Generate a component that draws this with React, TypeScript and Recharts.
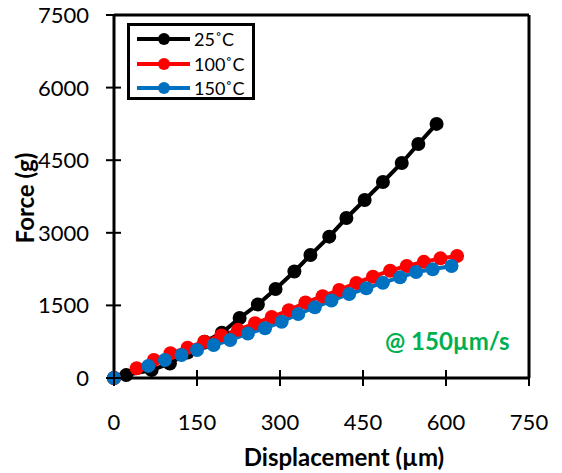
import {
  Line,
  LineChart,
  ReferenceLine,
  XAxis,
  YAxis,
} from "recharts";

const X_TICKS = [0, 150, 300, 450, 600, 750];
const Y_TICKS = [0, 1500, 3000, 4500, 6000, 7500];

const DISP_25 = [0, 22, 68, 101, 133, 164, 195, 227, 260, 292, 326, 355, 389, 420, 453, 486, 520, 550, 583];
const FORCE_25 = [0, 60, 165, 300, 525, 750, 935, 1240, 1520, 1840, 2200, 2540, 2920, 3306, 3678, 4050, 4442, 4835, 5250];

const DISP_100 = [0, 41, 72, 102, 133, 163, 194, 224, 255, 285, 316, 346, 377, 407, 438, 468, 499, 529, 560, 590, 620];
const FORCE_100 = [0, 200, 372, 510, 625, 750, 880, 995, 1130, 1260, 1400, 1560, 1690, 1818, 1965, 2093, 2217, 2314, 2400, 2472, 2521];

const DISP_150 = [0, 62, 92, 122, 150, 180, 210, 242, 273, 303, 333, 363, 393, 425, 456, 486, 517, 546, 576, 610];
const FORCE_150 = [0, 250, 372, 475, 578, 682, 785, 920, 1027, 1163, 1322, 1460, 1600, 1736, 1853, 1969, 2080, 2190, 2245, 2314];

const SERIES = [
  { name: "25˚C", color: "#000000", xs: DISP_25, ys: FORCE_25 },
  { name: "100˚C", color: "#FF0000", xs: DISP_100, ys: FORCE_100 },
  { name: "150˚C", color: "#0070C0", xs: DISP_150, ys: FORCE_150 },
];

const FONT = "Lato, 'Open Sans', sans-serif";

function YTick({ x, y, payload }: any) {
  return (
    <g>
      <line x1={x - 8} x2={x + 7} y1={y} y2={y} stroke="#000" strokeWidth={2} />
      <text x={x - 25} y={y} dy={8} textAnchor="end" fontSize={22} fontFamily={FONT} fill="#000">
        {payload.value}
      </text>
    </g>
  );
}

function XTick({ x, y, payload }: any) {
  return (
    <g>
      <line x1={x} x2={x} y1={y - 8} y2={y + 8} stroke="#000" strokeWidth={2} />
      <text x={x} y={y} dy={52} textAnchor="middle" fontSize={22} fontFamily={FONT} fill="#000">
        {payload.value}
      </text>
    </g>
  );
}

// legend drawn as an overlay so it does not take space from the plot
function LegendBox() {
  return (
    <div
      style={{
        position: "absolute",
        left: 127,
        top: 23,
        border: "3px solid #000",
        background: "#fff",
        width: 128,
        height: 77,
        boxSizing: "border-box",
        paddingTop: 1,
        fontFamily: FONT,
        fontSize: 18,
      }}
    >
      {SERIES.map((s) => (
        <div key={s.name} style={{ display: "flex", alignItems: "center", height: 24.5 }}>
          <svg width={60} height={20}>
            <line x1={7} x2={60} y1={10} y2={10} stroke={s.color} strokeWidth={4} />
            <circle cx={34} cy={10} r={6} fill={s.color} />
          </svg>
          <span style={{ marginLeft: 4 }}>{s.name}</span>
        </div>
      ))}
    </div>
  );
}

export default function App() {
  return (
    <div style={{ position: "absolute", left: 0, top: 0, width: 562, height: 473, background: "#fff" }}>
      <LineChart width={562} height={473} margin={{ top: 15, right: 33, bottom: 0, left: 0 }}>
        <XAxis
          type="number"
          dataKey="x"
          domain={[0, 750]}
          ticks={X_TICKS}
          height={95}
          tickSize={0}
          tickMargin={0}
          tick={<XTick />}
          axisLine={{ stroke: "#000", strokeWidth: 3 }}
          allowDuplicatedCategory={false}
          label={{
            content: () => (
              <text x={344} y={466} textAnchor="middle" fontSize={24} fontWeight="bold" fontFamily={FONT}>
                Displacement (µm)
              </text>
            ),
          }}
        />
        <YAxis
          type="number"
          dataKey="y"
          domain={[0, 7500]}
          ticks={Y_TICKS}
          width={114}
          tickSize={0}
          tickMargin={0}
          tick={<YTick />}
          axisLine={{ stroke: "#000", strokeWidth: 3 }}
          label={{
            content: () => (
              <text
                x={34}
                y={198}
                transform="rotate(-90 34 198)"
                textAnchor="middle"
                fontSize={24}
                fontWeight="bold"
                fontFamily={FONT}
              >
                Force (g)
              </text>
            ),
          }}
        />
        <ReferenceLine y={7500} stroke="#000" strokeWidth={3} />
        <ReferenceLine x={750} stroke="#000" strokeWidth={3} />
        {SERIES.map((s) => (
          <Line
            key={s.name}
            name={s.name}
            data={s.xs.map((x, i) => ({ x, y: s.ys[i] }))}
            dataKey="y"
            stroke={s.color}
            strokeWidth={4}
            dot={{ r: 7, fill: s.color, stroke: s.color, strokeWidth: 0 }}
            isAnimationActive={false}
          />
        ))}
      </LineChart>
      <LegendBox />
      <div
        style={{
          position: "absolute",
          left: 385,
          top: 326,
          fontFamily: FONT,
          fontWeight: "bold",
          fontSize: 24,
          color: "#00B050",
          whiteSpace: "nowrap",
        }}
      >
        @ 150µm/s
      </div>
    </div>
  );
}
